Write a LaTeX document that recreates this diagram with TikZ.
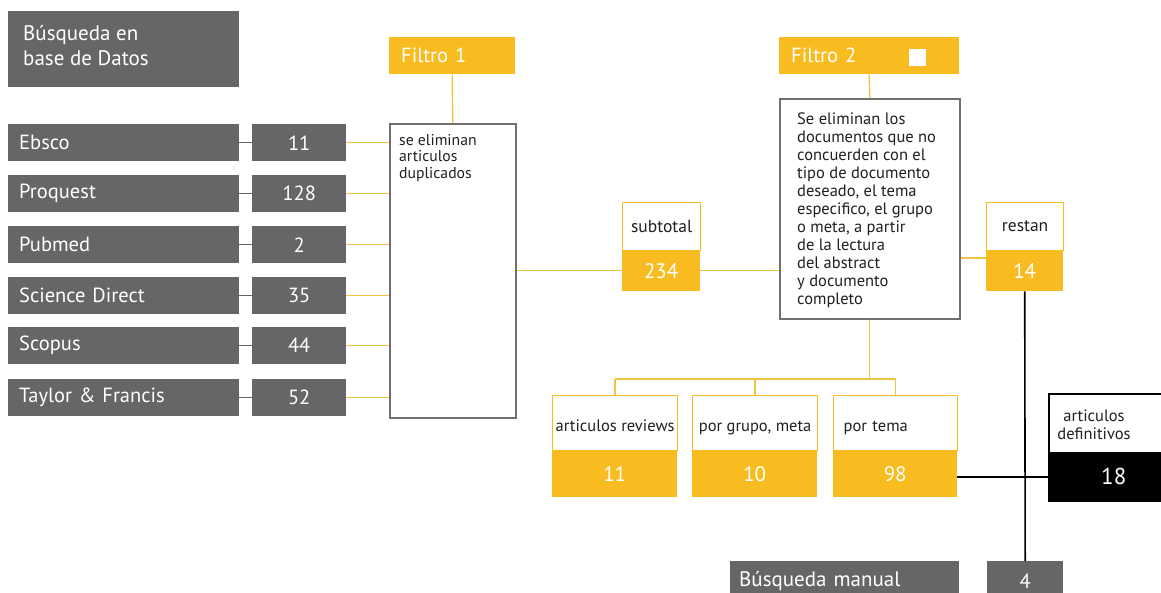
\documentclass[tikz,border=0pt]{standalone}
\usepackage{fontspec}
\setmainfont{PT Sans}
\usetikzlibrary{calc}
\definecolor{ygold}{RGB}{249,188,32}
\definecolor{yline}{RGB}{240,196,64}
\definecolor{bgray}{RGB}{102,102,104}
\definecolor{bordgray}{RGB}{112,112,112}
\definecolor{ink}{RGB}{35,31,32}
\tikzset{
  graybox/.style={fill=bgray, draw=none, inner sep=0pt, anchor=north west, text=white},
  ybox/.style={fill=ygold, draw=none, inner sep=0pt, anchor=north west, text=white},
  ytop/.style={fill=white, draw=ygold, line width=1.2pt, inner sep=0pt, anchor=north west, text=ink},
  textbox/.style={fill=white, draw=bordgray, line width=1.5pt, inner sep=0pt, anchor=north west},
  yl/.style={draw=yline, line width=1.4pt},
  gl/.style={draw=bgray, line width=1.4pt},
  bl/.style={draw=black, line width=1.6pt},
  big/.style={font=\fontsize{20.5}{24}\selectfont},
  num/.style={font=\fontsize{21}{23}\selectfont},
  mid/.style={font=\fontsize{16.5}{18}\selectfont},
  lab/.style={font=\fontsize{16.5}{18}\selectfont},
  lowlab/.style={lab, text height=20pt, text depth=4pt},
  small/.style={font=\fontsize{15.7}{16.5}\selectfont},
}
\begin{document}
\begin{tikzpicture}[x=1pt,y=-1pt]
\useasboundingbox (0,0) rectangle (1161,592);

% header
\node[graybox, minimum width=231pt, minimum height=76pt] (head) at (8,11) {};
\node[anchor=north west, inner sep=0pt, text=white, align=left, font=\fontsize{21}{25}\selectfont] (headtxt) at (23,25) {Búsqueda en\\base de Datos};

% database rows
\foreach \nm/\num/\t/\id in {Ebsco/11/124/a, Proquest/128/175/b, Pubmed/2/226/c, Science Direct/35/277/d, Scopus/44/327/e, Taylor \& Francis/52/379/f}{
  \node[graybox, big, minimum width=231pt, minimum height=37pt, text width=209pt, align=left] (n\id) at (8,\t) {\nm};
  \node[graybox, big, minimum width=94pt, minimum height=37pt] (c\id) at (252,\t) {\num};
}

% Filtro 1
\node[ybox, big, minimum width=126pt, minimum height=37pt, text width=102pt, align=left] (f1t) at (389,37) {Filtro 1};
\node[textbox, minimum width=126pt, minimum height=294pt] (f1b) at (389,123) {};
\node[anchor=north west, small, text=ink, inner sep=0pt, align=left] (f1txt) at (399,134) {se eliminan\\articulos\\duplicados};
\draw[yl] (f1t.south) -- (f1b.north);

\foreach \id in {a,b,c,d,e,f}{
  \draw[gl] (n\id.east) -- (c\id.west);
  \draw[yl] (c\id.east) -- (c\id.east -| f1b.west);
}

% subtotal
\node[ytop, font=\fontsize{17.5}{19}\selectfont, minimum width=78pt, minimum height=48pt] (subT) at (622,202) {subtotal};
\node[ybox, num, minimum width=78pt, minimum height=41pt] (subB) at (622,250) {234};
\draw[yl] (subB.west -| f1b.east) -- (subB.west);

% Filtro 2
\node[ybox, big, minimum width=180pt, minimum height=37pt, text width=156pt, align=left] (f2t) at (779,37) {Filtro 2};
\node[fill=white, draw=none, minimum size=17pt, inner sep=0pt, anchor=north west] (sq) at (909,49) {};
\node[textbox, minimum width=180pt, minimum height=220pt] (f2b) at (779,98) {};
\node[anchor=north west, mid, text=ink, inner sep=0pt, align=left] (f2txt) at (797,113) {Se eliminan los\\documentos que no\\concuerden con el\\tipo de documento\\deseado, el tema\\especifico, el grupo\\o meta, a partir\\de la lectura\\del abstract\\y documento\\completo};
\draw[yl] (f2t.south) -- (f2b.north);
\draw[yl] (subB.east) -- (subB.east -| f2b.west);

% restan
\node[ytop, font=\fontsize{17.5}{19}\selectfont, minimum width=77pt, minimum height=48pt] (resT) at (986,202) {restan};
\node[ybox, num, minimum width=77pt, minimum height=41pt] (resB) at (986,250) {14};
\coordinate (rj) at (986,258);
\draw[yl] (f2b.east |- rj) -- (rj);

% bottom category boxes
\node[ytop, lowlab, minimum width=125pt, minimum height=55pt] (arT) at (552,395) {articulos reviews};
\node[ybox, num, minimum width=125pt, minimum height=47pt] (arB) at (552,450) {11};
\node[ytop, lowlab, minimum width=125pt, minimum height=55pt] (pgT) at (692,395) {por grupo, meta};
\node[ybox, num, minimum width=125pt, minimum height=47pt] (pgB) at (692,450) {10};
\node[ytop, lowlab, minimum width=124pt, minimum height=55pt, text width=104pt, align=left] (ptT) at (833,395) {por tema};
\node[ybox, num, minimum width=124pt, minimum height=47pt] (ptB) at (833,450) {98};

\coordinate (hb) at (0,379);
\draw[yl] (f2b.south) -- (f2b.south |- hb);
\draw[yl] (arT.north |- hb) -- (ptT.north |- hb);
\draw[yl] (arT.north |- hb) -- (arT.north);
\draw[yl] (pgT.north |- hb) -- (pgT.north);
\draw[yl] (ptT.north |- hb) -- (ptT.north);

% articulos definitivos
\node[fill=white, draw=black, line width=1.5pt, inner sep=0pt, anchor=north west, minimum width=130pt, minimum height=59pt] (adT) at (1048,393) {};
\node[fill=black, draw=black, line width=1.5pt, inner sep=0pt, anchor=north west, text=white, font=\fontsize{23}{25}\selectfont, minimum width=130pt, minimum height=48pt] (adB) at (1048,452) {18};
\node[lab, text=ink, align=center, inner sep=0pt] (adtxt) at (1094,425) {articulos\\definitivos};

% manual search
\node[graybox, font=\fontsize{21}{23}\selectfont, minimum width=229pt, minimum height=40pt, text width=211pt, align=left] (bm) at (730,561) {Búsqueda manual};
\node[graybox, big, minimum width=76pt, minimum height=40pt] (bm4) at (987,561) {4};

\draw[bl] (adB.west) -- (adB.west -| ptB.east);
\draw[bl] (resB.south) -- (bm4.north);
\end{tikzpicture}
\end{document}
